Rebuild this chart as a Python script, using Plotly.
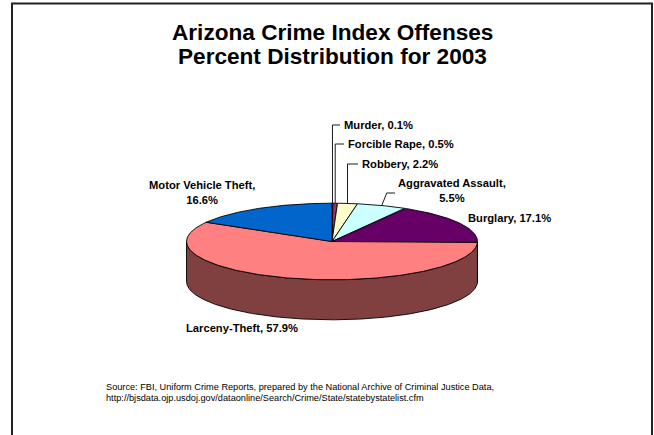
import numpy as np
import plotly.graph_objects as go

# Arizona crime index offenses, percent of total, 2003
categories = ["Murder", "Forcible Rape", "Robbery", "Aggravated Assault",
              "Burglary", "Larceny-Theft", "Motor Vehicle Theft"]
percents = [0.1, 0.5, 2.2, 5.5, 17.1, 57.9, 16.6]
top_colors = ["#9999FF", "#993366", "#FFFFCC", "#CCFFFF",
              "#660066", "#FF8080", "#0066CC"]
side_colors = ["#4D4D80", "#4D1A33", "#808066", "#668080",
               "#330033", "#804040", "#003366"]

title_lines = ["Arizona Crime Index Offenses", "Percent Distribution for 2003"]
source_lines = [
    "Source: FBI, Uniform Crime Reports, prepared by the National Archive of Criminal Justice Data,",
    "http://bjsdata.ojp.usdoj.gov/dataonline/Search/Crime/State/statebystatelist.cfm",
]

W, H = 654, 435
# pie geometry in pixel space (tilted ellipse + wall depth)
CX, CY, RX, RY, DEPTH = 332.0, 241.5, 145.5, 38.3, 40.0
FONT = "Arial, Liberation Sans, sans-serif"


def ell(theta_deg, dy=0.0):
    t = np.radians(theta_deg)
    return CX + RX * np.sin(t), CY - RY * np.cos(t) + dy


total = sum(percents)
bounds = np.concatenate([[0.0], np.cumsum(percents)]) / total * 360.0

fig = go.Figure()

# side walls (only the front half, 90..270 deg, is visible)
for i in range(len(percents)):
    s, e = max(bounds[i], 90.0), min(bounds[i + 1], 270.0)
    if s >= e:
        continue
    th = np.linspace(s, e, max(int((e - s) * 2), 2))
    xt, yt = ell(th)
    xb, yb = ell(th[::-1], DEPTH)
    xs = np.concatenate([xt, xb, xt[:1]])
    ys = np.concatenate([yt, yb, yt[:1]])
    fig.add_trace(go.Scatter(x=xs, y=ys, mode="lines", fill="toself",
                             fillcolor=side_colors[i],
                             line=dict(color="black", width=0.9),
                             hoverinfo="skip"))

# top face slices
for i in range(len(percents)):
    s, e = bounds[i], bounds[i + 1]
    th = np.linspace(s, e, max(int((e - s) * 2), 2))
    xa, ya = ell(th)
    xs = np.concatenate([[CX], xa, [CX]])
    ys = np.concatenate([[CY], ya, [CY]])
    fig.add_trace(go.Scatter(x=xs, y=ys, mode="lines", fill="toself",
                             fillcolor=top_colors[i],
                             line=dict(color="black", width=0.9),
                             name=categories[i], hoverinfo="skip"))

# label placement: (anchor x, y, xanchor, leader elbow dx or None)
label_pos = [
    (342, 125, "left", 0),
    (346, 144, "left", 0),
    (360, 164, "left", 0),
    (452, 190.5, "center", 5),
    (466, 217.5, "left", None),
    (184, 328, "left", None),
    (202, 192, "center", None),
]
leader_y = {3: 193}

annotations = []
for i, (lx, ly, xa, elbow) in enumerate(label_pos):
    name = categories[i]
    val = f"{percents[i]:.1f}%"
    if name in ("Aggravated Assault", "Motor Vehicle Theft"):
        text = f"<b>{name},<br>{val}</b>"
    else:
        text = f"<b>{name}, {val}</b>"
    annotations.append(dict(x=lx, y=ly, xref="x", yref="y", text=text,
                            showarrow=False, xanchor=xa, yanchor="middle",
                            align="center",
                            font=dict(family=FONT, size=11.2, color="black")))
    if elbow is not None:
        mid = (bounds[i] + bounds[i + 1]) / 2
        mx, my = ell(mid)
        yy = leader_y.get(i, ly)
        if xa == "left":
            endx = lx - 2
        else:
            endx = 395
        fig.add_trace(go.Scatter(x=[mx, mx + elbow, endx], y=[my, yy, yy],
                                 mode="lines",
                                 line=dict(color="black", width=0.9),
                                 hoverinfo="skip"))

# title
for t, y in zip(title_lines, [32.5, 56]):
    annotations.append(dict(x=332, y=y, xref="x", yref="y", text=f"<b>{t}</b>",
                            showarrow=False, xanchor="center", yanchor="middle",
                            font=dict(family=FONT, size=22.6, color="black")))

# source note
for t, y in zip(source_lines, [387, 397.5]):
    annotations.append(dict(x=104, y=y, xref="x", yref="y", text=t,
                            showarrow=False, xanchor="left", yanchor="middle",
                            font=dict(family=FONT, size=9.2, color="black")))

fig.update_layout(
    width=W, height=H,
    margin=dict(l=0, r=0, t=0, b=0),
    paper_bgcolor="white", plot_bgcolor="white",
    showlegend=False, hovermode=False,
    xaxis=dict(range=[0, W], visible=False, fixedrange=True),
    yaxis=dict(range=[H, 0], visible=False, fixedrange=True),
    annotations=annotations,
    shapes=[dict(type="rect", xref="x", yref="y", x0=12, y0=3.5, x1=652, y1=450,
                 line=dict(color="#222222", width=2), fillcolor="rgba(0,0,0,0)",
                 layer="below")],
)

fig.write_html("out.html")
